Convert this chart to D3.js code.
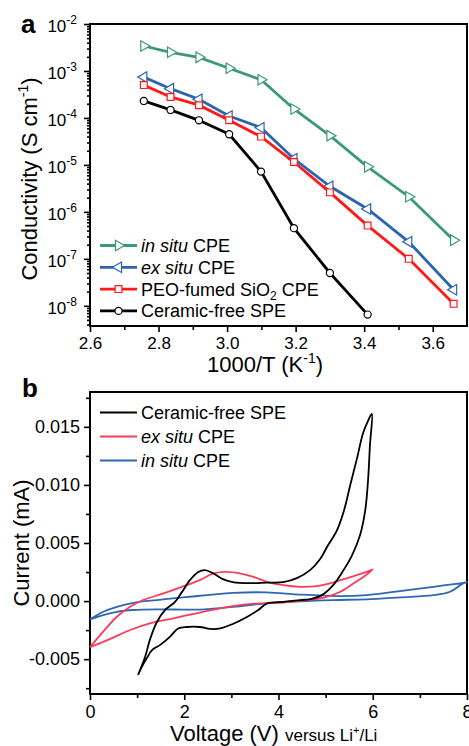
<!DOCTYPE html>
<html>
<head>
<meta charset="utf-8">
<script src="https://cdn.jsdelivr.net/npm/d3@7"></script>
<style>
    body { margin: 0; background: #fff; }
    svg { display: block; font-family: 'Liberation Sans', Arial, sans-serif; }
</style>
</head>
<body>
<svg id="chart" width="469" height="746"></svg>
<script>
'use strict'

// ---- panel a : conductivity vs 1000/T ----
const invT = [2.757, 2.835, 2.918, 3.006, 3.099, 3.195, 3.300, 3.410, 3.530, 3.661]
const inSituCond = [3.4e-3, 2.5e-3, 1.95e-3, 1.14e-3, 6.5e-4, 1.55e-4, 4.2e-5, 9.1e-6, 2.1e-6, 2.5e-7]
const exSituCond = [7.4e-4, 4.2e-4, 2.5e-4, 1.1e-4, 6.2e-5, 1.35e-5, 3.5e-6, 1.15e-6, 2.3e-7, 2.2e-8]
const fumedCond = [5.0e-4, 2.8e-4, 1.87e-4, 8.9e-5, 4.0e-5, 1.15e-5, 2.6e-6, 5.1e-7, 1.0e-7, 1.1e-8]
const ceramicFreeCond = [2.3e-4, 1.48e-4, 8.9e-5, 4.5e-5, 7.2e-6, 4.5e-7, 5.0e-8, 6.5e-9]

const aXTicks = [2.6, 2.8, 3.0, 3.2, 3.4, 3.6]
const aXMinor = [2.7, 2.9, 3.1, 3.3, 3.5]
const aYTicks = [1e-8, 1e-7, 1e-6, 1e-5, 1e-4, 1e-3, 1e-2]

// ---- panel b : cyclic voltammetry, [voltage V, current mA] ----
const ceramicFreeCV = [
    [1.02, -0.00635], [1.17, -0.0048], [1.27, -0.00334], [1.42, -0.0018], [1.59, -0.00077], [1.80, -0.00009],
    [1.95, 0.00077], [2.12, 0.0018], [2.29, 0.00249], [2.44, 0.00266], [2.61, 0.0024], [2.82, 0.00189],
    [3.03, 0.00163], [3.40, 0.00154], [3.76, 0.00159], [4.10, 0.00163], [4.39, 0.00197], [4.67, 0.00266],
    [4.88, 0.0036], [5.05, 0.0048], [5.24, 0.00609], [5.39, 0.0078], [5.52, 0.00995], [5.67, 0.01235],
    [5.79, 0.01441], [5.90, 0.01552], [5.98, 0.01612],
    [5.94, 0.01338], [5.90, 0.01038], [5.84, 0.0078], [5.73, 0.00566], [5.56, 0.00394], [5.37, 0.0026],
    [5.16, 0.00137], [4.92, 0.00051], [4.67, 0.00017], [4.46, 0.00009], [4.10, -0.00006], [3.76, -0.0002],
    [3.57, -0.00077], [3.33, -0.00137], [3.03, -0.00197], [2.76, -0.00236], [2.55, -0.0024], [2.33, -0.00223],
    [2.06, -0.00223], [1.87, -0.00236], [1.70, -0.00306], [1.49, -0.00377], [1.32, -0.0042], [1.21, -0.00489],
    [1.10, -0.00566], [1.02, -0.00635]
]
const exSituCV = [
    [0, -0.00397], [0.28, -0.00263], [0.57, -0.00135], [0.85, -0.00049], [1.13, 0.00009], [1.56, 0.00066],
    [2.05, 0.00137], [2.33, 0.0018], [2.62, 0.00238], [2.90, 0.00251], [3.18, 0.00238], [3.47, 0.00208],
    [3.75, 0.00166], [4.10, 0.00137], [4.46, 0.00123], [4.81, 0.00129], [5.09, 0.00152], [5.31, 0.0018],
    [5.66, 0.00223], [5.87, 0.00251], [6.0, 0.00272],
    [5.80, 0.00208], [5.59, 0.00152], [5.31, 0.0008], [5.02, 0.00037], [4.74, 0.00015], [4.46, 0.00003],
    [3.96, -0.00015], [3.61, -0.0002], [3.18, -0.00034], [2.76, -0.00063], [2.26, -0.00105], [1.77, -0.00148],
    [1.27, -0.00191], [0.85, -0.00249], [0.42, -0.00328], [0, -0.00397]
]
const inSituCV = [
    [0, -0.00157], [0.28, -0.00092], [0.57, -0.00049], [0.92, -0.00015], [1.42, 0.00009], [1.98, 0.00032],
    [2.48, 0.00051], [3.04, 0.00071], [3.75, 0.00075], [4.46, 0.00056], [5.31, 0.00043], [5.87, 0.00051],
    [6.58, 0.00086], [7.29, 0.00123], [7.92, 0.00157], [8.0, 0.00163],
    [7.92, 0.00152], [7.64, 0.0008], [7.29, 0.00051], [6.58, 0.00032], [5.87, 0.00015], [5.16, 0.00009],
    [4.46, -0.00002], [3.75, -0.0002], [3.04, -0.00049], [2.33, -0.00073], [1.42, -0.00071], [0.92, -0.00077],
    [0.57, -0.00092], [0.28, -0.0012], [0, -0.00157]
]

const bXTicks = [0, 2, 4, 6, 8]
const bXMinor = [1, 3, 5, 7]
const bYTicks = [-0.005, 0, 0.005, 0.010, 0.015]
const bYMinor = [-0.0075, -0.0025, 0.0025, 0.0075, 0.0125, 0.0175]

let svg = d3.select('#chart')

function styleAxis(sel, size) {
    sel.attr('font-family', null).attr('font-size', size)
    sel.select('.domain').remove()
    sel.selectAll('line').attr('stroke', '#000').attr('stroke-width', 1.6)
    sel.selectAll('text').attr('fill', '#000')
}

function frame(g, w, h) {
    g.append('rect').attr('width', w).attr('height', h)
        .attr('fill', 'none').attr('stroke', '#000').attr('stroke-width', 2)
}

// ================= panel a =================
let ma = { left: 90, top: 24, width: 377, height: 302 }
let gA = svg.append('g').attr('transform', `translate(${ma.left}, ${ma.top})`)

let xA = d3.scaleLinear().domain([2.6, 3.7]).range([0, ma.width])
let yA = d3.scaleLog().domain([Math.pow(10, -8.43), 1e-2]).range([ma.height, 0])

let yMinorA = []
for (let k = -9; k < -2; k++)
    for (let m = 2; m < 10; m++) {
        let v = m * Math.pow(10, k)
        if (v >= yA.domain()[0] && v <= 1e-2) yMinorA.push(v)
    }

gA.append('g').attr('transform', `translate(0, ${ma.height})`)
    .call(d3.axisBottom(xA).tickValues(aXMinor).tickSize(4).tickFormat(''))
    .call(styleAxis, 17)
gA.append('g').attr('transform', `translate(0, ${ma.height})`)
    .call(d3.axisBottom(xA).tickValues(aXTicks).tickSize(6).tickSizeOuter(0).tickPadding(5).tickFormat(d3.format('.1f')))
    .call(styleAxis, 17)

gA.append('g')
    .call(d3.axisLeft(yA).tickValues(yMinorA).tickSize(3).tickFormat(''))
    .call(styleAxis, 17)
gA.append('g')
    .call(d3.axisLeft(yA).tickValues(aYTicks).tickSize(6).tickSizeOuter(0).tickPadding(7).tickFormat(''))
    .call(styleAxis, 17)
    .selectAll('.tick text')
    .attr('dy', '0.45em')
    .each(function (d) {
        let t = d3.select(this)
        t.append('tspan').text('10')
        t.append('tspan').attr('font-size', 12).attr('dy', -8).text(Math.round(Math.log10(d)))
    })

frame(gA, ma.width, ma.height)

let seriesA = [
    { values: inSituCond, color: '#3b9878', symbol: d3.symbolTriangle, rotate: 90, size: 48 },
    { values: exSituCond, color: '#2c64b0', symbol: d3.symbolTriangle, rotate: -90, size: 48 },
    { values: fumedCond, color: '#ff1a1a', symbol: d3.symbolSquare, rotate: 0, size: 46 },
    { values: ceramicFreeCond, color: '#000000', symbol: d3.symbolCircle, rotate: 0, size: 40 }
]

let lineA = d3.line().x(d => xA(d[0])).y(d => yA(d[1]))

seriesA.forEach(s => {
    let pts = s.values.map((v, i) => [invT[i], v])
    gA.append('path').datum(pts).attr('d', lineA)
        .attr('fill', 'none').attr('stroke', s.color).attr('stroke-width', 2.8)
    gA.append('g').selectAll('path').data(pts).enter().append('path')
        .attr('d', d3.symbol().type(s.symbol).size(s.size))
        .attr('transform', d => `translate(${xA(d[0])}, ${yA(d[1])}) rotate(${s.rotate})`)
        .attr('fill', '#fff').attr('stroke', s.color).attr('stroke-width', 1.2)
})

// legend a
let legA = svg.append('g').attr('font-size', 18)
let legALabels = [
    [['in situ', true], [' CPE', false]],
    [['ex situ', true], [' CPE', false]],
    [['PEO-fumed SiO', false], ['2', false, 'sub'], [' CPE', false]],
    [['Ceramic-free SPE', false]]
]
seriesA.forEach((s, i) => {
    let yy = 245.5 + i * 21.8
    let row = legA.append('g').attr('transform', `translate(0, ${yy})`)
    row.append('line').attr('x1', 100).attr('x2', 137).attr('stroke', s.color).attr('stroke-width', 2.8)
    row.append('path').attr('d', d3.symbol().type(s.symbol).size(s.size))
        .attr('transform', `translate(118.5, 0) rotate(${s.rotate})`)
        .attr('fill', '#fff').attr('stroke', s.color).attr('stroke-width', 1.2)
    let t = row.append('text').attr('x', 141).attr('y', 6.5)
    legALabels[i].forEach(p => {
        let sp = t.append('tspan').text(p[0])
        if (p[1]) sp.attr('font-style', 'italic')
        if (p[2] === 'sub') sp.attr('font-size', 12).attr('dy', 4)
        else if (p[0] === ' CPE' && i === 2) sp.attr('dy', -4)
    })
})

// axis titles a
let xtA = svg.append('text').attr('x', 207).attr('y', 372).attr('font-size', 22)
xtA.append('tspan').text('1000/T (K')
xtA.append('tspan').attr('font-size', 14).attr('dy', -9).text('-1')
xtA.append('tspan').attr('dy', 9).text(')')

let ytA = svg.append('text').attr('transform', 'translate(37, 179) rotate(-90)')
    .attr('text-anchor', 'middle').attr('font-size', 22)
ytA.append('tspan').text('Conductivity (S cm')
ytA.append('tspan').attr('font-size', 14).attr('dy', -9).text('-1')
ytA.append('tspan').attr('dy', 9).text(')')

svg.append('text').attr('x', 21).attr('y', 33).attr('font-size', 26).attr('font-weight', 'bold').text('a')

// ================= panel b =================
let mb = { left: 90, top: 392, width: 377, height: 302 }
let gB = svg.append('g').attr('transform', `translate(${mb.left}, ${mb.top})`)

let xB = d3.scaleLinear().domain([0, 8]).range([0, mb.width])
let yB = d3.scaleLinear().domain([-0.008, 0.018]).range([mb.height, 0])

gB.append('g').attr('transform', `translate(0, ${mb.height})`)
    .call(d3.axisBottom(xB).tickValues(bXMinor).tickSize(4).tickFormat(''))
    .call(styleAxis, 18)
gB.append('g').attr('transform', `translate(0, ${mb.height})`)
    .call(d3.axisBottom(xB).tickValues(bXTicks).tickSize(6).tickSizeOuter(0).tickPadding(5).tickFormat(d3.format('d')))
    .call(styleAxis, 18)

gB.append('g')
    .call(d3.axisLeft(yB).tickValues(bYMinor).tickSize(4).tickFormat(''))
    .call(styleAxis, 18)
gB.append('g')
    .call(d3.axisLeft(yB).tickValues(bYTicks).tickSize(6).tickSizeOuter(0).tickPadding(4).tickFormat(d => d.toFixed(3)))
    .call(styleAxis, 18)

frame(gB, mb.width, mb.height)

let seriesB = [
    { values: inSituCV, color: '#2f67b3', label: [['in situ', true], [' CPE', false]] },
    { values: exSituCV, color: '#fa3c5a', label: [['ex situ', true], [' CPE', false]] },
    { values: ceramicFreeCV, color: '#000000', label: [['Ceramic-free SPE', false]] }
]

let lineB = d3.line().x(d => xB(d[0])).y(d => yB(d[1])).curve(d3.curveCatmullRom.alpha(0.5))

seriesB.forEach(s => {
    gB.append('path').datum(s.values).attr('d', lineB)
        .attr('fill', 'none').attr('stroke', s.color).attr('stroke-width', 1.8)
})

// legend b (black first, as in the figure)
let legB = svg.append('g').attr('font-size', 18)
seriesB.slice().reverse().forEach((s, i) => {
    let yy = 412.5 + i * 24
    legB.append('line').attr('x1', 100).attr('x2', 137).attr('y1', yy).attr('y2', yy)
        .attr('stroke', s.color).attr('stroke-width', 1.8)
    let t = legB.append('text').attr('x', 141).attr('y', yy + 6.5)
    s.label.forEach(p => {
        let sp = t.append('tspan').text(p[0])
        if (p[1]) sp.attr('font-style', 'italic')
    })
})

// axis titles b
let xtB = svg.append('text').attr('x', 170).attr('y', 741).attr('font-size', 22)
xtB.append('tspan').text('Voltage (V) ')
xtB.append('tspan').attr('font-size', 17).text('versus Li')
xtB.append('tspan').attr('font-size', 11).attr('dy', -7).text('+')
xtB.append('tspan').attr('font-size', 17).attr('dy', 7).text('/Li')

svg.append('text').attr('transform', 'translate(29, 543) rotate(-90)')
    .attr('text-anchor', 'middle').attr('font-size', 22).text('Current (mA)')

svg.append('text').attr('x', 22).attr('y', 397).attr('font-size', 26).attr('font-weight', 'bold').text('b')
</script>
</body>
</html>
